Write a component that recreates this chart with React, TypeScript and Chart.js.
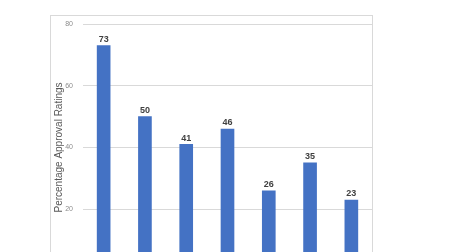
import React, { useEffect, useRef } from "react";
import { Chart, registerables } from "chart.js";

Chart.register(...registerables);

const categories = ["A", "B", "C", "D", "E", "F", "G"];
const approvalValues = [73, 50, 41, 46, 26, 35, 23];
const yTicks = [0, 20, 40, 60, 80];
const yTitle = "Percentage Approval Ratings";

const frameAndLabels = {
  id: "frameAndLabels",
  beforeDraw(chart: any) {
    const ctx = chart.ctx;
    ctx.save();
    ctx.strokeStyle = "#d9d9d9";
    ctx.lineWidth = 1;
    ctx.strokeRect(50.5, 15.5, 322, 400);
    ctx.restore();
  },
  afterDatasetsDraw(chart: any) {
    const ctx = chart.ctx;
    const meta = chart.getDatasetMeta(0);
    ctx.save();
    ctx.font = "bold 9px 'Liberation Sans', Arial, sans-serif";
    ctx.fillStyle = "#404040";
    ctx.textAlign = "center";
    ctx.textBaseline = "alphabetic";
    meta.data.forEach((bar: any, i: number) => {
      ctx.fillText(String(approvalValues[i]), bar.x, bar.y - 3.5);
    });
    ctx.restore();
  },
};

export default function App() {
  const ref = useRef<HTMLCanvasElement>(null);
  useEffect(() => {
    if (!ref.current) return;
    const chart = new Chart(ref.current, {
      type: "bar",
      data: {
        labels: categories,
        datasets: [
          {
            data: approvalValues,
            backgroundColor: "#4472C4",
            barThickness: 13,
          },
        ],
      },
      options: {
        animation: false,
        responsive: false,
        maintainAspectRatio: false,
        layout: { padding: { left: 50, top: 24, right: 77, bottom: 0 } },
        plugins: { legend: { display: false }, tooltip: { enabled: false } },
        scales: {
          x: {
            grid: { display: false },
            border: { display: false },
            ticks: { color: "#595959", font: { size: 8 } },
            afterFit(scale: any) {
              scale.height = 29;
            },
          },
          y: {
            min: 0,
            max: 80,
            afterBuildTicks(scale: any) {
              scale.ticks = yTicks.map((v) => ({ value: v }));
            },
            afterFit(scale: any) {
              scale.width = 33;
            },
            grid: { color: "#d9d9d9", drawTicks: false },
            border: { display: false },
            ticks: {
              color: "#8c8c8c",
              padding: 10,
              font: { size: 7, family: "'Liberation Sans', Arial, sans-serif" },
            },
            title: {
              display: true,
              text: yTitle,
              color: "#595959",
              padding: { top: 3, bottom: 0 },
              font: { size: 10, family: "'Liberation Sans', Arial, sans-serif" },
            },
          },
        },
      },
      plugins: [frameAndLabels],
    });
    return () => chart.destroy();
  }, []);
  return (
    <div style={{ position: "absolute", left: 0, top: 0, width: 449, height: 252, overflow: "hidden", background: "#fff" }}>
      <canvas ref={ref} width={449} height={300} style={{ display: "block" }} />
    </div>
  );
}
